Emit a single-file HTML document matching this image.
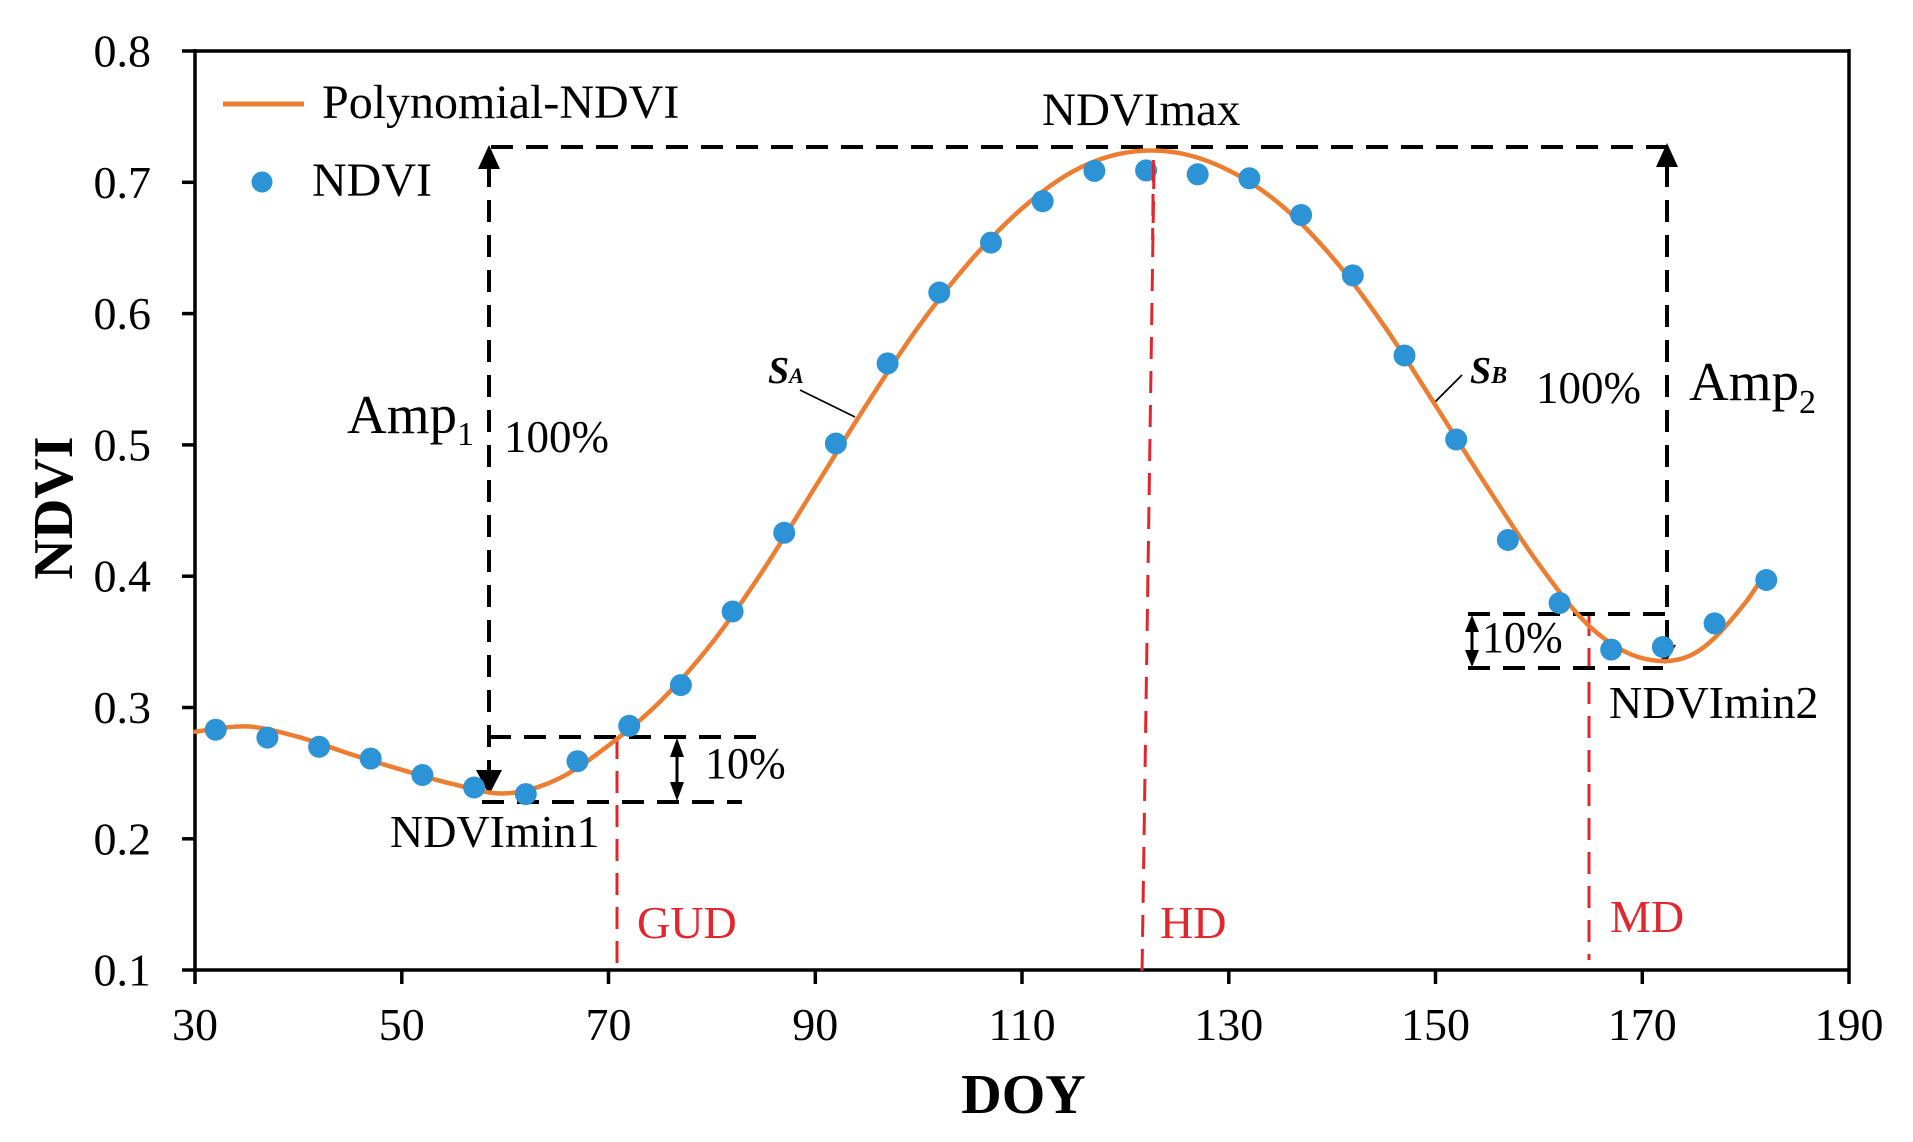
<!DOCTYPE html>
<html><head><meta charset="utf-8"><style>
html,body{margin:0;padding:0;background:#fff;}
svg{display:block;}
text{font-family:"Liberation Serif","Times New Roman",serif;}
</style></head><body>
<svg width="1913" height="1142" viewBox="0 0 1913 1142" xmlns="http://www.w3.org/2000/svg">
<rect width="1913" height="1142" fill="#fff"/>
<!-- axes frame -->
<g stroke="#000" stroke-width="3.5" fill="none">
<line x1="195" y1="51" x2="1849" y2="51"/>
<line x1="195" y1="970" x2="1849" y2="970"/>
<line x1="195" y1="49" x2="195" y2="972"/>
<line x1="1849" y1="49" x2="1849" y2="972"/>
<line x1="182" y1="51" x2="195" y2="51"/>
<line x1="182" y1="182.3" x2="195" y2="182.3"/>
<line x1="182" y1="313.6" x2="195" y2="313.6"/>
<line x1="182" y1="444.9" x2="195" y2="444.9"/>
<line x1="182" y1="576.2" x2="195" y2="576.2"/>
<line x1="182" y1="707.5" x2="195" y2="707.5"/>
<line x1="182" y1="838.8" x2="195" y2="838.8"/>
<line x1="182" y1="970" x2="195" y2="970"/>
<line x1="195" y1="970" x2="195" y2="984"/>
<line x1="401.8" y1="970" x2="401.8" y2="984"/>
<line x1="608.5" y1="970" x2="608.5" y2="984"/>
<line x1="815.3" y1="970" x2="815.3" y2="984"/>
<line x1="1022" y1="970" x2="1022" y2="984"/>
<line x1="1228.8" y1="970" x2="1228.8" y2="984"/>
<line x1="1435.5" y1="970" x2="1435.5" y2="984"/>
<line x1="1642.3" y1="970" x2="1642.3" y2="984"/>
<line x1="1849" y1="970" x2="1849" y2="984"/>
</g>
<!-- y tick labels -->
<g font-size="46" text-anchor="end" fill="#000">
<text x="151" y="66.5">0.8</text>
<text x="151" y="197.8">0.7</text>
<text x="151" y="329.1">0.6</text>
<text x="151" y="460.4">0.5</text>
<text x="151" y="591.7">0.4</text>
<text x="151" y="723">0.3</text>
<text x="151" y="854.3">0.2</text>
<text x="151" y="985.5">0.1</text>
</g>
<!-- x tick labels -->
<g font-size="46" text-anchor="middle" fill="#000">
<text x="195" y="1040">30</text>
<text x="401.8" y="1040">50</text>
<text x="608.5" y="1040">70</text>
<text x="815.3" y="1040">90</text>
<text x="1022" y="1040">110</text>
<text x="1228.8" y="1040">130</text>
<text x="1435.5" y="1040">150</text>
<text x="1642.3" y="1040">170</text>
<text x="1849" y="1040">190</text>
</g>
<!-- axis titles -->
<text x="1023.5" y="1113" font-size="56" font-weight="bold" text-anchor="middle" fill="#000">DOY</text>
<text transform="translate(72,508) rotate(-90)" font-size="56" font-weight="bold" text-anchor="middle" fill="#000">NDVI</text>

<!-- red dashed phenology lines -->
<g stroke="#E3262E" stroke-width="3" stroke-dasharray="22 12" fill="none">
<line x1="617" y1="737" x2="617" y2="970"/>
<line x1="1154" y1="167" x2="1142" y2="975"/>
<line x1="1589" y1="614" x2="1589" y2="960"/>
</g>
<text x="637" y="938" font-size="46" style="fill:#E3262E">GUD</text>
<text x="1160" y="938" font-size="46" style="fill:#E3262E">HD</text>
<text x="1610" y="932" font-size="46" style="fill:#E3262E">MD</text>

<!-- black dashed annotation lines -->
<g stroke="#000" stroke-width="4" stroke-dasharray="22 13" fill="none">
<line x1="491" y1="147" x2="1667" y2="147"/>
<line x1="489" y1="165" x2="489" y2="775"/>
<line x1="489" y1="737" x2="757" y2="737"/>
<line x1="482" y1="802" x2="742" y2="802"/>
<line x1="1667" y1="165" x2="1667" y2="648"/>
<line x1="1468" y1="614" x2="1667" y2="614"/>
<line x1="1468" y1="668" x2="1663" y2="668"/>
</g>
<!-- arrows -->
<g fill="#000" stroke="none">
<polygon points="489,145 478,169 500,169"/>
<polygon points="489,795 476,770 502,770"/>
<polygon points="1667,143 1656,167 1678,167"/>
<polygon points="1665,664 1654,645 1676,645"/>
<polygon points="677,738 670,757 684,757"/>
<polygon points="677,801 670,782 684,782"/>
<rect x="675.5" y="755" width="3" height="28"/>
<polygon points="1472,615 1465,632 1479,632"/>
<polygon points="1472,667 1465,650 1479,650"/>
<rect x="1470.5" y="630" width="3" height="22"/>
</g>

<!-- annotation texts -->
<g fill="#000">
<text x="705" y="778" font-size="44">10%</text>
<text x="1482" y="652" font-size="44">10%</text>
<text x="390" y="847" font-size="46">NDVImin1</text>
<text x="1609" y="718" font-size="46">NDVImin2</text>
<text x="1042" y="125" font-size="47">NDVImax</text>
<text x="347" y="433" font-size="55">Amp<tspan font-size="34" dy="12">1</tspan></text>
<text x="504" y="452" font-size="45">100%</text>
<text x="1689" y="400" font-size="55">Amp<tspan font-size="34" dy="13">2</tspan></text>
<text x="1536" y="403" font-size="45">100%</text>
<text x="768" y="383" font-size="38" font-weight="bold" font-style="italic">S<tspan font-size="22">A</tspan></text>
<text x="1470" y="383" font-size="38" font-weight="bold" font-style="italic">S<tspan font-size="24">B</tspan></text>
</g>
<g stroke="#000" stroke-width="1.8">
<line x1="800" y1="390" x2="855" y2="417"/>
<line x1="1435" y1="402" x2="1462" y2="375"/>
</g>

<!-- fitted curve -->
<path fill="none" stroke="#ED7D31" stroke-width="4.5" stroke-linejoin="round" stroke-linecap="round"
d="M195,731.7 C203.6,730.8 229.5,725.5 246.7,726.4
S281.2,732.3 298.4,736.9
S332.9,748.5 350.1,754.0
S384.6,764.8 401.8,769.8
S436.2,780.3 453.4,784.2
S487.9,794.2 505.1,793.4
S539.6,787.6 556.8,779.6
S591.3,758.5 608.5,745.5
S643.0,718.6 660.2,701.5
S694.7,665.1 711.9,643.1
S746.4,595.6 763.6,569.5
S798.1,514.4 815.3,486.8
S849.7,430.8 866.9,404.1
S901.4,350.5 918.6,326.6
S953.1,280.7 970.3,261.0
S1004.8,223.5 1022.0,208.5
S1056.5,180.3 1073.7,171.0
S1108.2,155.75 1125.4,152.7
S1159.9,149.75 1177.1,152.7
S1211.6,161.8 1228.8,170.4
S1263.2,190.1 1280.4,204.5
S1314.9,236.9 1332.1,257.0
S1366.6,300.6 1383.8,325.3
S1418.3,378.5 1435.5,405.4
S1470.0,460.3 1487.2,486.8
S1521.7,540.9 1538.9,564.3
S1573.4,611.65 1590.6,627.3
S1625.1,653.8 1642.3,658.2
S1676.8,662.9 1694.0,653.6
S1728.4,624.1 1745.6,602.4
C1751.1,595.5 1756.7,585.9 1762.2,578.7"/>

<!-- data points -->
<g fill="#2B93D6">
<circle cx="215.7" cy="729.7" r="11"/>
<circle cx="267.4" cy="737.6" r="11"/>
<circle cx="319.1" cy="746.8" r="11"/>
<circle cx="370.7" cy="758.6" r="11"/>
<circle cx="422.4" cy="775" r="11"/>
<circle cx="474.1" cy="787.5" r="11"/>
<circle cx="525.8" cy="794.1" r="11"/>
<circle cx="577.5" cy="761.2" r="11"/>
<circle cx="629.2" cy="725.8" r="11"/>
<circle cx="680.9" cy="685.1" r="11"/>
<circle cx="732.6" cy="611.5" r="11"/>
<circle cx="784.2" cy="532.8" r="11"/>
<circle cx="835.9" cy="443.5" r="11"/>
<circle cx="887.6" cy="363.4" r="11"/>
<circle cx="939.3" cy="292.5" r="11"/>
<circle cx="991" cy="242.6" r="11"/>
<circle cx="1042.7" cy="201.2" r="11"/>
<circle cx="1094.4" cy="170.9" r="11"/>
<circle cx="1146.1" cy="170.4" r="11"/>
<circle cx="1197.7" cy="174.3" r="11"/>
<circle cx="1249.4" cy="178.3" r="11"/>
<circle cx="1301.1" cy="215" r="11"/>
<circle cx="1352.8" cy="275.4" r="11"/>
<circle cx="1404.5" cy="355.5" r="11"/>
<circle cx="1456.2" cy="439.5" r="11"/>
<circle cx="1507.9" cy="540" r="11"/>
<circle cx="1559.6" cy="603" r="11"/>
<circle cx="1611.2" cy="649.6" r="11"/>
<circle cx="1662.9" cy="647" r="11"/>
<circle cx="1714.6" cy="623.4" r="11"/>
<circle cx="1766.3" cy="580" r="11"/>
</g>
<line x1="1153.4" y1="160" x2="1152.6" y2="240" stroke="#E3262E" stroke-width="3" stroke-dasharray="22 12"/>

<!-- legend -->
<line x1="223" y1="104" x2="304" y2="104" stroke="#ED7D31" stroke-width="5"/>
<text x="322" y="118" font-size="48" fill="#000">Polynomial-NDVI</text>
<circle cx="262" cy="182" r="10.5" fill="#2B93D6"/>
<text x="312" y="196" font-size="48" fill="#000">NDVI</text>
</svg>
</body></html>
